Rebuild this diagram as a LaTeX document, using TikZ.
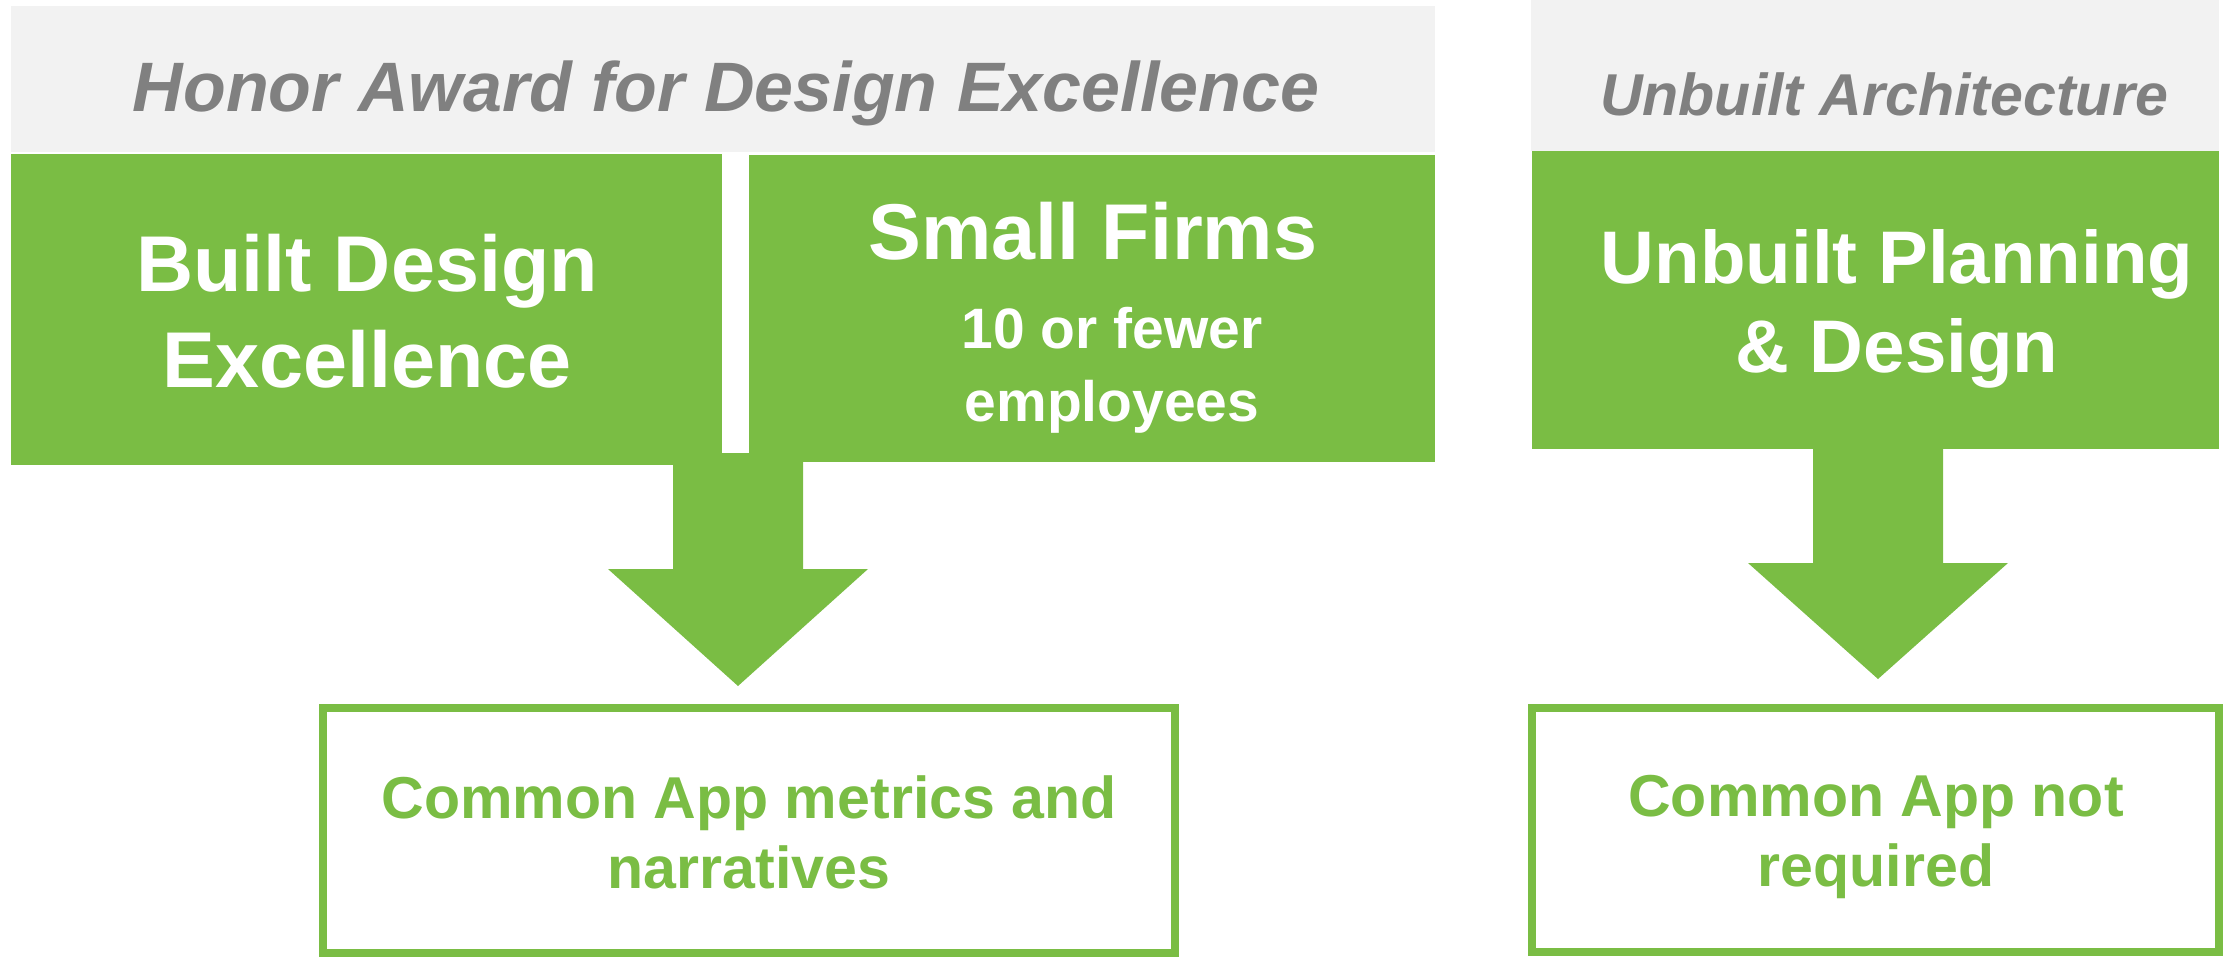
\documentclass[tikz,border=0pt]{standalone}
\usepackage{fontspec}
\setmainfont{Liberation Sans}
\usetikzlibrary{calc}
\definecolor{awardgreen}{HTML}{7ABD44}
\definecolor{headgray}{HTML}{F2F2F2}
\definecolor{titlegray}{HTML}{808080}
\tikzset{
	header/.style={fill=headgray, inner sep=0pt},
	greenbox/.style={fill=awardgreen, inner sep=0pt},
	outbox/.style={draw=awardgreen, line width=0.08cm, inner sep=0pt},
	headtext/.style={text=titlegray, anchor=base, inner sep=0pt},
	boxtext/.style={text=white, align=center, anchor=base, inner sep=0pt},
	outtext/.style={text=awardgreen, align=center, anchor=base, inner sep=0pt,
		font=\bfseries\fontsize{16.8}{19.9}\selectfont},
}

\begin{document}
\begin{tikzpicture}[x=0.01cm, y=-0.01cm]
\useasboundingbox (0, 0) rectangle (2229, 957);

\node[header, minimum width=14.24cm, minimum height=1.46cm] (headL) at (723, 79) {};
\node[header, minimum width=6.88cm, minimum height=1.51cm] (headR) at (1875, 75.5) {};

\node[headtext, font=\bfseries\itshape\fontsize{19.9}{24}\selectfont] (awardL) at (726, 111) {Honor Award for Design Excellence};
\node[headtext, font=\bfseries\itshape\fontsize{16.8}{20}\selectfont] (awardR) at (1884, 115) {Unbuilt Architecture};

\node[greenbox, minimum width=7.11cm, minimum height=3.11cm] (built) at (366.5, 309.5) {};
\node[greenbox, minimum width=6.86cm, minimum height=3.07cm] (small) at (1092, 308.5) {};
\node[greenbox, minimum width=6.87cm, minimum height=2.98cm] (unbuilt) at (1875.5, 300) {};

\node[boxtext, font=\bfseries\fontsize{22.5}{27.3}\selectfont] (builtT) at (367, 387) {Built Design\\Excellence};
\node[boxtext, font=\bfseries\fontsize{22.5}{27}\selectfont] (smallT) at (1093, 259) {Small Firms};
\node[boxtext, font=\bfseries\fontsize{16.2}{20.5}\selectfont] (smallS) at (1112, 421) {10 or fewer\\employees};
\node[boxtext, font=\bfseries\fontsize{21.2}{25.3}\selectfont] (unbuiltT) at (1897, 372) {Unbuilt Planning\\\& Design};

\node[outbox, minimum width=8.52cm, minimum height=2.45cm] (out1) at (749, 830.5) {};
\node[outbox, minimum width=6.87cm, minimum height=2.44cm] (out2) at (1875.5, 830) {};

\node[outtext] (out1T) at (749, 888) {Common App metrics and\\narratives};
\node[outtext] (out2T) at (1876, 886) {Common App not\\required};

\coordinate (a1) at (738, 453);
\coordinate (t1) at (738, 686);
\coordinate (a2) at (1878, 449);
\coordinate (t2) at (1878, 679);

\fill[awardgreen] ($(a1)+(-65, 0)$) -- ($(a1)+(-65, 116)$) -- ($(a1)+(-130, 116)$) -- (t1)
	-- ($(a1)+(130, 116)$) -- ($(a1)+(65, 116)$) -- ($(a1)+(65, 0)$) -- cycle;
\fill[awardgreen] ($(a2)+(-65, 0)$) -- ($(a2)+(-65, 114)$) -- ($(a2)+(-130, 114)$) -- (t2)
	-- ($(a2)+(130, 114)$) -- ($(a2)+(65, 114)$) -- ($(a2)+(65, 0)$) -- cycle;
\end{tikzpicture}
\end{document}
